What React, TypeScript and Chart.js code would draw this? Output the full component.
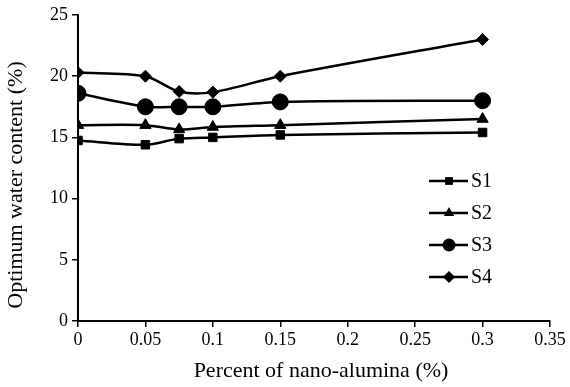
import React, { useEffect, useRef } from "react";
import { Chart, registerables } from "chart.js";

Chart.register(...registerables);

const xValues = [0, 0.05, 0.075, 0.1, 0.15, 0.3];
const seriesNames = ["S1", "S2", "S3", "S4"];
const s1 = [14.75, 14.4, 14.9, 15.0, 15.2, 15.4];
const s2 = [16.0, 16.0, 15.65, 15.85, 16.0, 16.5];
const s3 = [18.6, 17.5, 17.5, 17.5, 17.9, 18.0];
const s4 = [20.3, 20.0, 18.75, 18.7, 20.0, 23.0];
const xTitle = "Percent of nano-alumina (%)";
const yTitle = "Optimum water content (%)";
const pointStyles = ["rect", "triangle", "circle", "rectRot"];
const pointRadii = [6, 6.5, 8, 6];
const legendRadii = [5.5, 6, 6.5, 6];

const FONT = "'Liberation Serif', 'Times New Roman', serif";

function drawMarker(ctx: CanvasRenderingContext2D, style: string, r: number, x: number, y: number) {
  ctx.beginPath();
  if (style === "rect") {
    const s = r * Math.SQRT1_2;
    ctx.rect(x - s, y - s, s * 2, s * 2);
  } else if (style === "triangle") {
    ctx.moveTo(x, y - r);
    ctx.lineTo(x + r * 0.866, y + r * 0.5);
    ctx.lineTo(x - r * 0.866, y + r * 0.5);
    ctx.closePath();
  } else if (style === "circle") {
    ctx.arc(x, y, r, 0, Math.PI * 2);
  } else {
    ctx.moveTo(x, y - r);
    ctx.lineTo(x + r, y);
    ctx.lineTo(x, y + r);
    ctx.lineTo(x - r, y);
    ctx.closePath();
  }
  ctx.fill();
}

const legendPlugin = {
  id: "customLegend",
  afterDraw(chart: any) {
    const ctx = chart.ctx;
    const rows = [181, 213, 245, 277];
    chart.data.datasets.forEach((ds: any, i: number) => {
      const y = rows[i];
      ctx.save();
      ctx.strokeStyle = "#000";
      ctx.lineWidth = 2.5;
      ctx.beginPath();
      ctx.moveTo(429, y);
      ctx.lineTo(468, y);
      ctx.stroke();
      ctx.fillStyle = "#000";
      drawMarker(ctx, ds.pointStyle, legendRadii[i], 449, y);
      ctx.font = `20px ${FONT}`;
      ctx.textAlign = "left";
      ctx.textBaseline = "middle";
      ctx.fillText(ds.label, 471, y + 1);
      ctx.restore();
    });
  },
};

const titlePlugin = {
  id: "axisTitles",
  afterDraw(chart: any) {
    const ctx = chart.ctx;
    ctx.save();
    ctx.fillStyle = "#000";
    ctx.font = `22px ${FONT}`;
    ctx.textAlign = "center";
    ctx.textBaseline = "alphabetic";
    ctx.fillText(xTitle, 321, 377);
    ctx.translate(22, 185);
    ctx.rotate(-Math.PI / 2);
    ctx.fillText(yTitle, 0, 0);
    ctx.restore();
  },
};

export default function App() {
  const ref = useRef<HTMLCanvasElement>(null);
  useEffect(() => {
    document.body.style.margin = "0";
    const data = [s1, s2, s3, s4];
    const chart = new Chart(ref.current!, {
      type: "line",
      data: {
        datasets: seriesNames.map((name, i) => ({
          label: name,
          data: xValues.map((x, j) => ({ x, y: data[i][j] })),
          borderColor: "#000",
          backgroundColor: "#000",
          borderWidth: 2.5,
          pointStyle: pointStyles[i] as any,
          pointRadius: pointRadii[i],
          pointBackgroundColor: "#000",
          pointBorderColor: "#000",
          pointBorderWidth: 1,
          tension: 0.3,
          fill: false,
        })),
      },
      options: {
        animation: false,
        responsive: false,
        layout: { padding: { top: 15, right: 20, left: 0, bottom: 0 } },
        plugins: { legend: { display: false }, tooltip: { enabled: false } },
        scales: {
          x: {
            type: "linear",
            min: 0,
            max: 0.35,
            ticks: {
              stepSize: 0.05,
              color: "#000",
              font: { family: FONT, size: 18 },
              padding: 2,
              callback: (v: any) => String(Number(Number(v).toFixed(2))),
            },
            grid: { drawOnChartArea: false, drawTicks: true, tickLength: 6, color: "#000", lineWidth: 1.5 },
            border: { color: "#000", width: 2 },
            title: { display: false },
            afterFit: (s: any) => {
              s.height = 66;
            },
          },
          y: {
            min: 0,
            max: 25,
            ticks: {
              stepSize: 5,
              color: "#000",
              font: { family: FONT, size: 18 },
              padding: 4,
            },
            grid: { drawOnChartArea: false, drawTicks: true, tickLength: 6, color: "#000", lineWidth: 1.5 },
            border: { color: "#000", width: 2 },
            title: { display: false },
            afterFit: (s: any) => {
              s.width = 78;
            },
          },
        },
      },
      plugins: [legendPlugin, titlePlugin],
    });
    return () => chart.destroy();
  }, []);
  return <canvas ref={ref} width={570} height={387} />;
}
